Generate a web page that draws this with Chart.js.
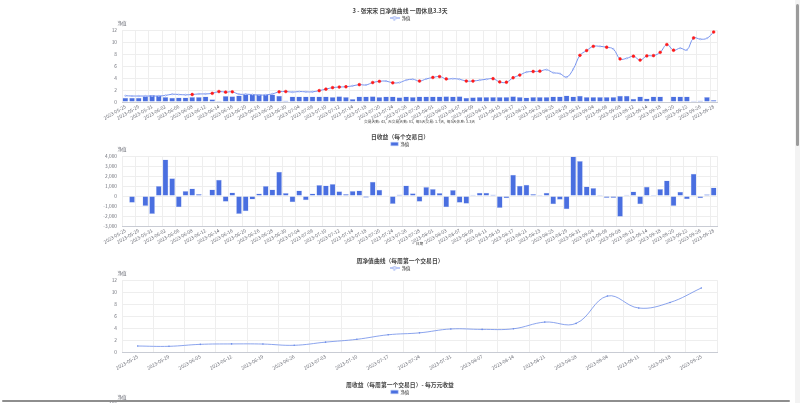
<!DOCTYPE html>
<html>
<head>
<meta charset="utf-8">
<script src="https://cdn.jsdelivr.net/npm/chart.js@4.4.0/dist/chart.umd.min.js"></script>
<style>
html, body { margin: 0; padding: 0; background: #fff; width: 800px; height: 403px; overflow: hidden; }
.box { position: absolute; left: 0; width: 800px; }
canvas { display: block; }
#vtrack { position: absolute; left: 795px; top: 0; width: 5px; height: 403px; background: #f3f3f3; }
#vthumb { position: absolute; left: 796px; top: 4px; width: 3px; height: 142px; background: #9b9b9b; border-radius: 2px; }
#hthumb { position: absolute; left: 2px; top: 399.5px; width: 788px; height: 2.5px; background: #8e8e8e; border-radius: 2px; }
</style>
</head>
<body>
<div class="box" style="top:0px"><canvas id="c1" width="800" height="126"></canvas></div>
<div class="box" style="top:126px"><canvas id="c2" width="800" height="122"></canvas></div>
<div class="box" style="top:250px"><canvas id="c3" width="800" height="122"></canvas></div>
<div class="box" style="top:374px"><canvas id="c4" width="800" height="230"></canvas></div>
<div id="vtrack"></div><div id="vthumb"></div><div id="hthumb"></div>
<script>
// 交易日
const days = [
    "2023-05-25", "2023-05-26", "2023-05-29", "2023-05-30", "2023-05-31",
    "2023-06-01", "2023-06-02", "2023-06-05", "2023-06-06", "2023-06-07", "2023-06-08", "2023-06-09",
    "2023-06-12", "2023-06-13", "2023-06-14", "2023-06-15", "2023-06-16",
    "2023-06-19", "2023-06-20", "2023-06-21", "2023-06-26", "2023-06-27", "2023-06-28", "2023-06-29", "2023-06-30",
    "2023-07-03", "2023-07-04", "2023-07-05", "2023-07-06", "2023-07-07",
    "2023-07-10", "2023-07-11", "2023-07-12", "2023-07-13", "2023-07-14",
    "2023-07-17", "2023-07-18", "2023-07-19", "2023-07-20", "2023-07-21",
    "2023-07-24", "2023-07-25", "2023-07-26", "2023-07-27", "2023-07-28",
    "2023-07-31", "2023-08-01", "2023-08-02", "2023-08-03", "2023-08-04",
    "2023-08-07", "2023-08-08", "2023-08-09", "2023-08-10", "2023-08-11",
    "2023-08-14", "2023-08-15", "2023-08-16", "2023-08-17", "2023-08-18",
    "2023-08-21", "2023-08-22", "2023-08-23", "2023-08-24", "2023-08-25",
    "2023-08-28", "2023-08-29", "2023-08-30", "2023-08-31", "2023-09-01",
    "2023-09-04", "2023-09-05", "2023-09-06", "2023-09-07", "2023-09-08",
    "2023-09-11", "2023-09-12", "2023-09-13", "2023-09-14", "2023-09-15",
    "2023-09-18", "2023-09-19", "2023-09-20", "2023-09-21", "2023-09-22",
    "2023-09-25", "2023-09-26", "2023-09-27", "2023-09-28",
]

// 日净值
const navDaily = [
    1.05, 1.0, 1.0, 1.0, 1.0, 1.0, 1.1, 1.3, 1.25, 1.2, 1.25, 1.35,
    1.35, 1.45, 1.75, 1.65, 1.7, 1.3, 1.3, 1.25, 1.15, 1.2, 1.35, 1.7, 1.75,
    1.65, 1.75, 1.7, 1.7, 1.9, 2.15, 2.4, 2.5, 2.55, 2.7,
    2.9, 2.85, 3.25, 3.45, 3.5, 3.2, 3.25, 3.65, 3.8, 3.5,
    3.85, 4.1, 4.25, 3.85, 3.9, 3.8, 3.5, 3.5, 3.65, 3.8,
    3.9, 3.35, 3.3, 4.05, 4.5, 5.0, 5.1, 5.15, 5.4, 4.9,
    4.75, 4.15, 5.5, 7.8, 8.6, 9.3, 9.3, 9.15, 8.85, 7.2,
    7.3, 7.65, 7.0, 7.7, 7.75, 8.3, 9.6, 8.65, 9.0, 8.7,
    10.7, 10.5, 10.65, 11.7,
]

// 柱（与净值同图）
const barDaily = [
    0.7, 0.7, 0.7, 0.95, 1.15, 1.1, 0.85, 0.7, 0.75, 0.75, 0.85, 0.85,
    0.9, 0.45, 0.2, 1.0, 0.95, 1.1, 1.25, 1.3, 1.3, 1.25, 1.25, 1.05, 0.25,
    0.9, 0.9, 0.9, 0.9, 0.9, 0.9, 0.85, 0.95, 0.85, 0.5,
    0.9, 0.9, 0.95, 0.85, 0.9, 0.9, 0.8, 0.9, 0.85, 0.9,
    0.9, 0.9, 0.9, 0.95, 0.9, 0.95, 0.7, 0.8, 0.85, 0.85,
    0.85, 0.85, 0.85, 0.95, 0.85, 0.75, 0.85, 0.85, 0.85, 0.9,
    0.9, 1.1, 0.9, 1.05, 0.85, 0.85, 0.85, 0.85, 0.85, 1.05,
    1.05, 0.55, 0.9, 0.6, 0.9, 0.9, null, 0.9, 0.9, 0.9,
    0.2, 0.25, 0.85, 0.35,
]

// 有交易的日子（红点）
const tradeIdx = [
    10, 13, 14, 15, 16, 23, 24, 29, 30, 31, 32, 33, 35, 37, 38, 40, 44, 46, 47, 48,
    51, 52, 55, 56, 57, 58, 59, 61, 62, 68, 69, 70, 72, 74, 76, 77, 78, 79, 80, 81, 82, 85, 88,
]

// 日收益
const retDaily = [
    -30, -670, 80, -1000, -1800, 1000, 3680, 1800, -1120, 520, 760, 220,
    80, 670, 1650, -580, 370, -1800, -1530, -340, 250, 1000, 670, 2430, 310,
    -610, 550, -430, 250, 1110, 1060, 1200, 490, 220, 520,
    550, -160, 1440, 640, 80, -790, 160, 1060, 280, -580,
    910, 700, 310, -1120, 610, -670, -760, 130, 340, 340,
    160, -1200, -220, 2130, 1030, 1140, 220, 100, 340, -820,
    -370, -1320, 3970, 3530, 970, 820, 20, -190, -190, -2070,
    130, 460, -820, 940, 20, 700, 1560, -1000, 430, -310,
    2250, -220, 190, 850,
]

// 每周第一个交易日
const weeks = [
    "2023-05-25", "2023-05-29", "2023-06-05", "2023-06-12", "2023-06-19", "2023-06-26",
    "2023-07-03", "2023-07-10", "2023-07-17", "2023-07-24", "2023-07-31", "2023-08-07",
    "2023-08-14", "2023-08-21", "2023-08-28", "2023-09-04", "2023-09-11", "2023-09-18", "2023-09-25",
]
const navWeekly = [1.0, 0.95, 1.28, 1.35, 1.33, 1.12, 1.65, 2.12, 2.88, 3.2, 3.85, 3.78, 3.88, 5.0, 4.78, 9.35, 7.35, 8.28, 10.7]
const gainWeekly = [0, -3, 30, 5, -1, -15, 40, 25, 32, 10, 18, -2, 3, 28, -5, 54.16, -20, 12, 29]

const statsText = "交易天数: 43,  无交易天数: 81,  每5天交易: 1.7天,  每5天休息: 3.3天"

const FONT = "'Noto Sans CJK SC', 'Noto Sans', sans-serif"
const BAR = "#4a6fe0"
const LINE = "#7894ee"
const GRID = "#eeeeee"

Chart.defaults.font.family = FONT
Chart.defaults.font.size = 4.8
Chart.defaults.color = "#6e7079"
Chart.defaults.animation = false

// y 轴名称（轴上方）和 x 轴名称（轴下方居中）
const axisName = {
    id: "axisName",
    afterDraw(chart, args, opts) {
        const { ctx, chartArea } = chart
        ctx.save()
        ctx.textAlign = "center"
        ctx.textBaseline = "middle"
        if (opts.y) {
            ctx.font = "4.6px " + FONT
            ctx.fillStyle = "#6e7079"
            ctx.fillText(opts.y, chartArea.left, chartArea.top - 7)
        }
        if (opts.x) {
            ctx.font = "3.8px " + FONT
            ctx.fillStyle = "#464646"
            ctx.fillText(opts.x, (chartArea.left + chartArea.right) / 2, chartArea.bottom + opts.xOffset)
        }
        ctx.restore()
    },
}

// 最大柱的数值标签
const peakLabel = {
    id: "peakLabel",
    afterDatasetsDraw(chart, args, opts) {
        if (!opts.show) return
        const data = chart.data.datasets[0].data
        const i = data.indexOf(Math.max(...data))
        const x = chart.scales.x.getPixelForValue(i)
        const { ctx, chartArea } = chart
        ctx.save()
        ctx.font = "3.6px " + FONT
        ctx.fillStyle = "#555"
        ctx.textAlign = "center"
        ctx.textBaseline = "middle"
        ctx.fillText(data[i].toFixed(2), x, chartArea.top)
        ctx.restore()
    },
}
Chart.register(axisName, peakLabel)

// 图例里的折线图标
function lineIcon(color) {
    const c = document.createElement("canvas")
    c.width = 10
    c.height = 5
    const g = c.getContext("2d")
    g.strokeStyle = color
    g.lineWidth = 1
    g.beginPath()
    g.moveTo(0, 2.5)
    g.lineTo(10, 2.5)
    g.stroke()
    g.fillStyle = "#fff"
    g.beginPath()
    g.moveTo(5, 0.6)
    g.lineTo(6.9, 2.5)
    g.lineTo(5, 4.4)
    g.lineTo(3.1, 2.5)
    g.closePath()
    g.fill()
    g.stroke()
    return c
}

function titleOpts(text) {
    return {
        display: true,
        text: text,
        color: "#464646",
        font: { size: 5.8, weight: "bold", lineHeight: 1 },
        padding: { top: 8, bottom: 0 },
    }
}

function legendOpts(isLine) {
    return {
        display: true,
        labels: {
            color: "#333",
            font: { size: 4.4 },
            padding: 2,
            boxWidth: 7.5,
            boxHeight: 3.7,
            usePointStyle: isLine,
            pointStyle: isLine ? lineIcon(LINE) : undefined,
            pointStyleWidth: isLine ? 10 : undefined,
            filter: (item) => item.text === "净值",
        },
    }
}

function xScale(labels, height, everyOther) {
    return {
        offset: true,
        grid: {
            offset: true,
            drawTicks: false,
            color: (c) => (everyOther && c.index % 2 && c.index !== labels.length ? "rgba(0,0,0,0)" : GRID),
        },
        border: { color: "#c9ccd4" },
        ticks: {
            autoSkip: false,
            minRotation: 30,
            maxRotation: 30,
            padding: 1.5,
            callback: (v, i) => (everyOther && i % 2 ? "" : labels[i]),
        },
        afterFit: (s) => { s.height = height },
    }
}

function yScale(min, max, step) {
    return {
        min: min,
        max: max,
        ticks: { stepSize: step, padding: 5 },
        grid: { color: GRID, drawTicks: false },
        border: { display: false },
        afterFit: (s) => { s.width = 39 },
    }
}

const layout = { padding: { left: 83, right: 83, top: 0, bottom: 0 } }

// 1. 日净值曲线
new Chart(document.getElementById("c1"), {
    type: "bar",
    data: {
        labels: days,
        datasets: [
            {
                type: "line",
                label: "净值",
                data: navDaily,
                order: 0,
                borderColor: LINE,
                borderWidth: 1,
                tension: 0.4,
                pointRadius: (c) => (tradeIdx.includes(c.dataIndex) ? 1.4 : 0.7),
                pointBackgroundColor: (c) => (tradeIdx.includes(c.dataIndex) ? "#ff1a1a" : "#fff"),
                pointBorderColor: (c) => (tradeIdx.includes(c.dataIndex) ? "#ff1a1a" : LINE),
                pointBorderWidth: 0.5,
            },
            {
                label: "持仓",
                data: barDaily,
                order: 1,
                backgroundColor: BAR,
                borderColor: "#c3d0f6",
                borderWidth: 0.5,
                barPercentage: 0.86,
                categoryPercentage: 1,
            },
        ],
    },
    options: {
        responsive: false,
        layout: layout,
        scales: { x: xScale(days, 24, true), y: yScale(0, 12, 2) },
        plugins: {
            title: titleOpts("3 - 张宋宋 日净值曲线 一周休息3.3天"),
            legend: legendOpts(true),
            tooltip: { enabled: false },
            axisName: { y: "净值", x: statsText, xOffset: 20 },
        },
    },
})

// 2. 日收益
new Chart(document.getElementById("c2"), {
    type: "bar",
    data: {
        labels: days,
        datasets: [
            {
                label: "净值",
                data: retDaily,
                backgroundColor: BAR,
                borderColor: "#c3d0f6",
                borderWidth: 0.5,
                barPercentage: 0.86,
                categoryPercentage: 1,
            },
        ],
    },
    options: {
        responsive: false,
        layout: layout,
        scales: { x: xScale(days, 22, true), y: yScale(-3000, 4000, 1000) },
        plugins: {
            title: titleOpts("日收益（每个交易日）"),
            legend: legendOpts(false),
            tooltip: { enabled: false },
            axisName: { y: "净值", x: "日期", xOffset: 18 },
        },
    },
})

// 3. 周净值曲线
new Chart(document.getElementById("c3"), {
    type: "line",
    data: {
        labels: weeks,
        datasets: [
            {
                label: "净值",
                data: navWeekly,
                borderColor: "#6d8de8",
                borderWidth: 0.8,
                tension: 0.4,
                pointRadius: 0.8,
                pointBackgroundColor: "#6d8de8",
                pointBorderWidth: 0,
            },
        ],
    },
    options: {
        responsive: false,
        layout: layout,
        scales: { x: xScale(weeks, 20, false), y: yScale(0, 12, 2) },
        plugins: {
            title: titleOpts("周净值曲线（每周第一个交易日）"),
            legend: legendOpts(true),
            tooltip: { enabled: false },
            axisName: { y: "净值" },
        },
    },
})

// 4. 周收益
new Chart(document.getElementById("c4"), {
    type: "bar",
    data: {
        labels: weeks,
        datasets: [
            {
                label: "净值",
                data: gainWeekly,
                backgroundColor: BAR,
                borderColor: "#c3d0f6",
                borderWidth: 0.5,
                barPercentage: 0.6,
                categoryPercentage: 1,
            },
        ],
    },
    options: {
        responsive: false,
        layout: layout,
        scales: { x: xScale(weeks, 20, false), y: yScale(-40, 100, 20) },
        plugins: {
            title: titleOpts("周收益（每周第一个交易日）- 每万元收益"),
            legend: legendOpts(false),
            tooltip: { enabled: false },
            axisName: { y: "净值" },
            peakLabel: { show: true },
        },
    },
})
</script>
</body>
</html>
